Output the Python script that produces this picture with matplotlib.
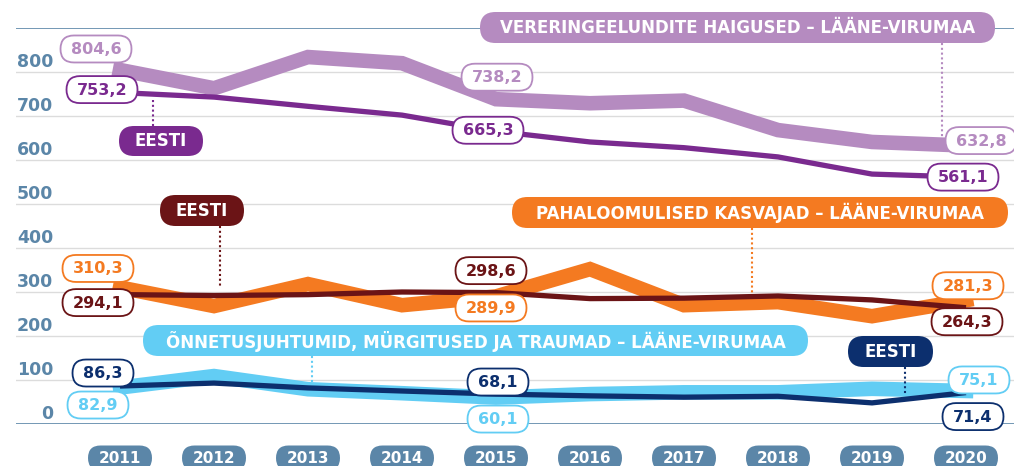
import matplotlib
matplotlib.use("Agg")
import matplotlib.pyplot as plt
import matplotlib.transforms as mtransforms
from matplotlib.patches import FancyBboxPatch
from matplotlib.lines import Line2D

# data (deaths per 100 000)
years = [2011, 2012, 2013, 2014, 2015, 2016, 2017, 2018, 2019, 2020]
lv_circ = [804.6, 763, 834, 820, 738.2, 729, 735, 668, 641, 632.8]
ee_circ = [753.2, 743, 722, 702, 665.3, 641, 628, 607, 568, 561.1]
lv_neo = [310.3, 268, 318, 270, 289.9, 352, 270, 277, 245, 281.3]
ee_neo = [294.1, 292, 294, 300, 298.6, 285, 286, 291, 282, 264.3]
lv_inj = [82.9, 109, 79, 70, 60.1, 68, 72, 72, 80, 75.1]
ee_inj = [86.3, 93, 82, 75, 68.1, 64, 61, 63, 48, 71.4]
yticks = [0, 100, 200, 300, 400, 500, 600, 700, 800]

W, H = 1014, 466
FONT = "DejaVu Sans"
STEEL = "#5b86a8"
GRID = "#dcdcdc"
C_LV_CIRC, C_EE_CIRC = "#b58bc0", "#7a2a8f"
C_LV_NEO, C_EE_NEO = "#f47a21", "#6b1416"
C_LV_INJ, C_EE_INJ = "#62cdf4", "#0c2f6e"

fig = plt.figure(figsize=(W / 100, H / 100), dpi=100)
ax = fig.add_axes([16 / W, 42 / H, 998 / W, 396 / H])
ax.set_xlim(2011 - 104 / 94, 2020 + 48 / 94)
ax.set_ylim(0, 900)
ax.axis("off")

for v in yticks[1:]:
    ax.axhline(v, color=GRID, lw=1, zorder=1)
ax.axhline(0, color=STEEL, lw=1.2, zorder=1)
ax.axhline(900, color=STEEL, lw=1.2, zorder=1)

ytrans = mtransforms.blended_transform_factory(fig.transFigure, ax.transData)
for v in yticks:
    ax.text(53 / W, v + 23, str(v), transform=ytrans, ha="right", va="center",
            fontsize=12.5, fontweight="bold", color=STEEL, family=FONT)

# thick regional lines, thin national lines
for vals, col in [(lv_circ, C_LV_CIRC), (lv_neo, C_LV_NEO), (lv_inj, C_LV_INJ)]:
    ax.plot(years, vals, color=col, lw=10.5, solid_joinstyle="miter",
            solid_capstyle="projecting", zorder=2)
for vals, col in [(ee_circ, C_EE_CIRC), (ee_neo, C_EE_NEO), (ee_inj, C_EE_INJ)]:
    ax.plot(years, vals, color=col, lw=3.8, solid_joinstyle="round",
            solid_capstyle="butt", zorder=3)

ident = mtransforms.IdentityTransform()


def pill(cx, cy, w, h, text, fc, ec=None, tc="white", lw=0, fs=11.5, z=6):
    # cx, cy in display pixels, origin bottom-left
    box = FancyBboxPatch((cx - w / 2, cy - h / 2), w, h,
                         boxstyle="round,pad=0,rounding_size=%f" % (h / 2),
                         fc=fc, ec=ec if ec else fc, lw=lw, transform=ident,
                         zorder=z)
    fig.add_artist(box)
    fig.text(cx / W, (cy - 0.5) / H, text, ha="center", va="center", color=tc,
             fontsize=fs, fontweight="bold", family=FONT, zorder=z + 1)


def leader(x, y0, y1, col):
    # image-pixel coords (from top)
    fig.add_artist(Line2D([x, x], [H - y0, H - y1], transform=ident, color=col,
                          lw=1.5, linestyle=(0, (1, 1.3)), zorder=4))


def fmt(v):
    return ("%.1f" % v).replace(".", ",")


def value_label(year, v, dx, dy, col):
    px, py = ax.transData.transform((year, v))
    txt = fmt(v)
    w = 71 if len(txt) > 4 else 61
    pill(px + dx, py + dy, w, 27, txt, "white", ec=col, tc=col, lw=1.3, fs=11.5)


# year pills along the bottom
for yr in years:
    px, _ = ax.transData.transform((yr, 0))
    pill(px, H - 458, 64, 25, str(yr), STEEL, fs=11)

# value labels
value_label(years[0], lv_circ[0], -24, 21, C_LV_CIRC)
value_label(years[0], ee_circ[0], -18, 3, C_EE_CIRC)
value_label(years[4], lv_circ[4], 1, 22, C_LV_CIRC)
value_label(years[4], ee_circ[4], -8, 1, C_EE_CIRC)
value_label(years[9], lv_circ[9], 15, 5, C_LV_CIRC)
value_label(years[9], ee_circ[9], -3, 0, C_EE_CIRC)

value_label(years[0], lv_neo[0], -22, 19, C_LV_NEO)
value_label(years[0], ee_neo[0], -22, -8, C_EE_NEO)
value_label(years[4], ee_neo[4], -5, 22, C_EE_NEO)
value_label(years[4], lv_neo[4], -5, -11.5, C_LV_NEO)
value_label(years[9], lv_neo[9], 2, 14.5, C_LV_NEO)
value_label(years[9], ee_neo[9], 1, -14, C_EE_NEO)

value_label(years[0], ee_inj[0], -17, 13, C_EE_INJ)
value_label(years[0], lv_inj[0], -22, -17.5, C_LV_INJ)
value_label(years[4], ee_inj[4], 2, 12, C_EE_INJ)
value_label(years[4], lv_inj[4], 2, -21.5, C_LV_INJ)
value_label(years[9], lv_inj[9], 13, 11, C_LV_INJ)
value_label(years[9], ee_inj[9], 7, -24, C_EE_INJ)

# series name pills with dotted leaders
leader(942, 43, 148, C_LV_CIRC)
pill(737.5, H - 27.5, 515, 31, "VERERINGEELUNDITE HAIGUSED – LÄÄNE-VIRUMAA", C_LV_CIRC, fs=12)
leader(153, 100, 126, C_EE_CIRC)
pill(161, H - 141, 84, 30, "EESTI", C_EE_CIRC, fs=12)

leader(220, 226, 287, C_EE_NEO)
pill(202, H - 210.5, 84, 31, "EESTI", C_EE_NEO, fs=12)
leader(752, 228, 293, C_LV_NEO)
pill(760, H - 212.5, 496, 31, "PAHALOOMULISED KASVAJAD – LÄÄNE-VIRUMAA", C_LV_NEO, fs=12)

leader(312, 356, 382, C_LV_INJ)
pill(475.5, H - 340.5, 665, 31, "ÕNNETUSJUHTUMID, MÜRGITUSED JA TRAUMAD – LÄÄNE-VIRUMAA", C_LV_INJ, fs=12)
leader(905, 367, 395, C_EE_INJ)
pill(890.5, H - 351.5, 85, 31, "EESTI", C_EE_INJ, fs=12)

fig.savefig("out.png", dpi=100)
